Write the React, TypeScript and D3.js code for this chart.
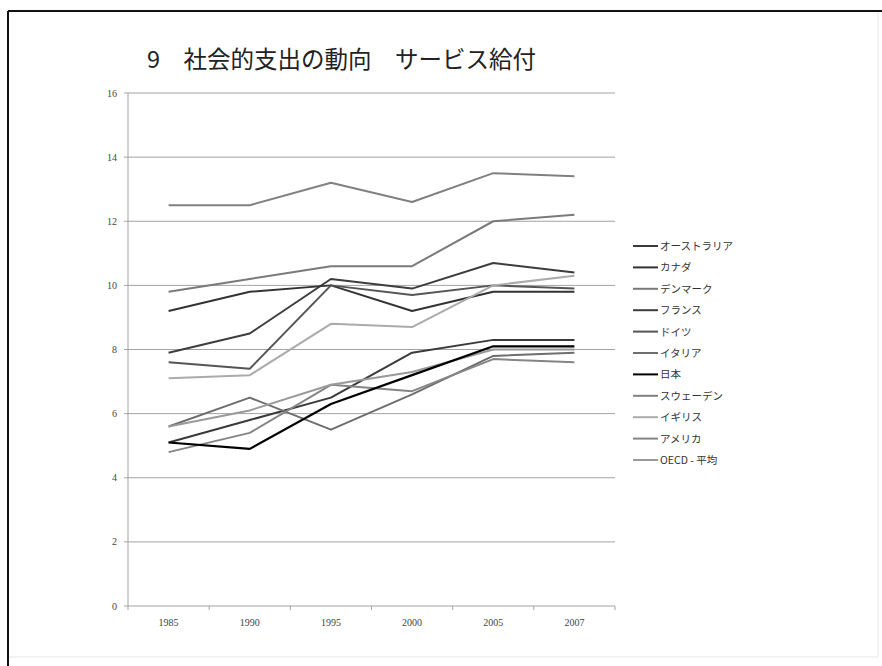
import React from "react";
import * as d3 from "d3";

// Survey years on the category axis
const years = ["1985", "1990", "1995", "2000", "2005", "2007"];

// Public in-kind (service) social expenditure, % of GDP
const australia = [5.1, 5.8, 6.5, 7.9, 8.3, 8.3];
const canada = [9.2, 9.8, 10.0, 9.2, 9.8, 9.8];
const denmark = [9.8, 10.2, 10.6, 10.6, 12.0, 12.2];
const france = [7.9, 8.5, 10.2, 9.9, 10.7, 10.4];
const germany = [7.6, 7.4, 10.0, 9.7, 10.0, 9.9];
const italy = [5.6, 6.5, 5.5, 6.6, 7.8, 7.9];
const japan = [5.1, 4.9, 6.3, 7.2, 8.1, 8.1];
const sweden = [12.5, 12.5, 13.2, 12.6, 13.5, 13.4];
const uk = [7.1, 7.2, 8.8, 8.7, 10.0, 10.3];
const usa = [4.8, 5.4, 6.9, 6.7, 7.7, 7.6];
const oecd = [5.6, 6.1, 6.9, 7.3, 8.0, 8.0];

const seriesNames = [
  "オーストラリア",
  "カナダ",
  "デンマーク",
  "フランス",
  "ドイツ",
  "イタリア",
  "日本",
  "スウェーデン",
  "イギリス",
  "アメリカ",
  "OECD - 平均",
];
const seriesValues = [australia, canada, denmark, france, germany, italy, japan, sweden, uk, usa, oecd];
const seriesColors = ["#3a3a3a", "#333333", "#7a7a7a", "#3d3d3d", "#555555", "#6e6e6e", "#000000", "#808080", "#ababab", "#858585", "#999999"];

const yTicks = [0, 2, 4, 6, 8, 10, 12, 14, 16];

const W = 882;
const H = 666;
const plot = { left: 128, right: 615, top: 93, bottom: 606 };

export default function App() {
  const x = d3.scaleBand<string>().domain(years).range([plot.left, plot.right]).padding(0);
  const y = d3.scaleLinear().domain([0, 16]).range([plot.bottom, plot.top]);
  const cx = (yr: string) => (x(yr) as number) + x.bandwidth() / 2;

  const line = d3
    .line<number>()
    .x((_, i) => cx(years[i]))
    .y((v) => y(v));

  const legendX = 633;
  const legendY0 = 246;
  const legendStep = 21.4;

  // Japan last so the black line sits on top
  const order = [7, 2, 3, 1, 4, 8, 0, 5, 9, 10, 6];

  return (
    <svg
      width={W}
      height={H}
      style={{ position: "absolute", left: 0, top: 0, background: "#fff" }}
    >
      {/* slide frame */}
      <line x1={8} y1={11} x2={882} y2={11} stroke="#111" strokeWidth={2} />
      <line x1={8} y1={11} x2={8} y2={666} stroke="#111" strokeWidth={2} />
      <line x1={878} y1={12} x2={878} y2={657} stroke="#e6e6e6" strokeWidth={1} />
      <line x1={9} y1={657} x2={878} y2={657} stroke="#e6e6e6" strokeWidth={1} />

      <text
        x={147}
        y={68}
        fontFamily="'Noto Sans CJK JP', 'Noto Sans', sans-serif"
        fontSize={23.5}
        fill="#222"
        style={{ whiteSpace: "pre" }}
      >
        {"9　社会的支出の動向　サービス給付"}
      </text>

      {/* horizontal gridlines */}
      {yTicks.map((t) => (
        <line
          key={"g" + t}
          x1={plot.left}
          x2={plot.right}
          y1={y(t)}
          y2={y(t)}
          stroke="#a3a3a3"
          strokeWidth={1}
        />
      ))}

      {/* y axis */}
      <line x1={plot.left} x2={plot.left} y1={plot.top} y2={plot.bottom} stroke="#a3a3a3" />
      {yTicks.map((t) => (
        <g key={"yt" + t}>
          <line x1={plot.left - 4} x2={plot.left} y1={y(t)} y2={y(t)} stroke="#a3a3a3" />
          <text
            x={117}
            y={y(t) + 3.5}
            textAnchor="end"
            fontFamily="'Liberation Serif', serif"
            fontSize={10}
            fill="#444"
          >
            {t}
          </text>
        </g>
      ))}

      {/* x axis ticks at category boundaries */}
      {years.map((yr) => (
        <line
          key={"xt" + yr}
          x1={x(yr) as number}
          x2={x(yr) as number}
          y1={plot.bottom}
          y2={plot.bottom + 4}
          stroke="#a3a3a3"
        />
      ))}
      <line x1={plot.right} x2={plot.right} y1={plot.bottom} y2={plot.bottom + 4} stroke="#a3a3a3" />
      {years.map((yr) => (
        <text
          key={"xl" + yr}
          x={cx(yr)}
          y={626}
          textAnchor="middle"
          fontFamily="'Liberation Serif', serif"
          fontSize={10}
          fill="#444"
        >
          {yr}
        </text>
      ))}

      {/* series lines */}
      {order.map((i) => (
        <path
          key={"s" + i}
          d={line(seriesValues[i]) || ""}
          fill="none"
          stroke={seriesColors[i]}
          strokeWidth={i === 6 ? 2.2 : 2}
          strokeLinejoin="round"
        />
      ))}

      {/* legend */}
      {seriesNames.map((name, i) => {
        const ly = legendY0 + i * legendStep;
        return (
          <g key={"lg" + i}>
            <line x1={legendX} x2={legendX + 25} y1={ly} y2={ly} stroke={seriesColors[i]} strokeWidth={2} />
            <text
              x={legendX + 27}
              y={ly + 4}
              fontFamily="'Noto Sans CJK JP', sans-serif"
              fontSize={10.5}
              fill="#333"
            >
              {name}
            </text>
          </g>
        );
      })}
    </svg>
  );
}
